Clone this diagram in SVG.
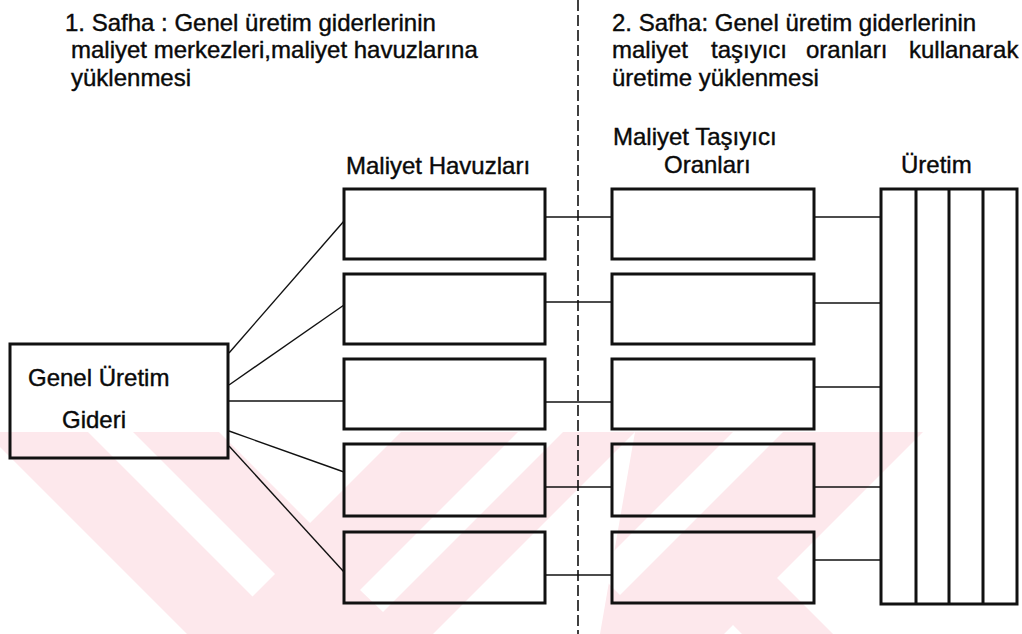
<svg xmlns="http://www.w3.org/2000/svg" width="1022" height="634" viewBox="0 0 1022 634">
  <defs>
    <style>
      .box { fill: none; stroke: #111; stroke-width: 3; }
      .ln { fill: none; stroke: #111; stroke-width: 1.4; }
      .dash { fill: none; stroke: #111; stroke-width: 1.6; stroke-dasharray: 11 4; }
      text { font-family: "Liberation Sans", Arial, sans-serif; font-size: 24px; fill: #0a0a0a; stroke: #0a0a0a; stroke-width: 0.4; }
      .wm { fill: #fde8ec; }
      .gap { fill: #ffffff; }
    </style>
    <clipPath id="wmClip">
      <rect x="0" y="432" width="1022" height="202"/>
    </clipPath>
  </defs>

  <rect width="1022" height="634" fill="#ffffff"/>

  <!-- background stamp -->
  <g id="stamp" clip-path="url(#wmClip)">
    <polygon class="wm" points="-15,432 219,432 310,523 401,432 635,432 433,634 187,634 0,447"/>
    <polygon class="wm" points="635,432 923,432 777,578 833,634 742,634 733,625 724,634 600,634"/>
    <polygon class="gap" points="88,432 133,432 275,574 252.5,596.5"/>
    <polygon class="gap" points="518,432 563,432 383,612 360,590"/>
    <polygon class="gap" points="733,432 783,432 620,595 595,570"/>
  </g>

  <!-- phase divider -->
  <line class="dash" x1="578" y1="0" x2="578" y2="634"/>

  <!-- headings -->
  <g id="phase1">
    <text x="65" y="31">1. Safha : Genel üretim giderlerinin</text>
    <text x="71" y="58">maliyet merkezleri,maliyet havuzlarına</text>
    <text x="71" y="86">yüklenmesi</text>
  </g>
  <g id="phase2">
    <text x="612" y="31">2. Safha: Genel üretim giderlerinin</text>
    <text x="612" y="58">maliyet</text>
    <text x="711" y="58">taşıyıcı</text>
    <text x="806" y="58">oranları</text>
    <text x="909" y="58">kullanarak</text>
    <text x="612" y="86">üretime yüklenmesi</text>
  </g>

  <!-- column titles -->
  <text x="346" y="174">Maliyet Havuzları</text>
  <text x="613" y="145">Maliyet Taşıyıcı</text>
  <text x="664" y="173">Oranları</text>
  <text x="901" y="173">Üretim</text>

  <!-- connectors -->
  <g id="connectors">
    <line class="ln" x1="229" y1="353" x2="344" y2="221"/>
    <line class="ln" x1="229" y1="385" x2="344" y2="305"/>
    <line class="ln" x1="229" y1="401" x2="344" y2="401"/>
    <line class="ln" x1="229" y1="431" x2="344" y2="472"/>
    <line class="ln" x1="229" y1="446" x2="344" y2="572"/>

    <line class="ln" x1="545" y1="217" x2="612" y2="217"/>
    <line class="ln" x1="545" y1="302" x2="612" y2="302"/>
    <line class="ln" x1="545" y1="402" x2="612" y2="402"/>
    <line class="ln" x1="545" y1="487" x2="612" y2="487"/>
    <line class="ln" x1="545" y1="575" x2="612" y2="575"/>

    <line class="ln" x1="814" y1="217" x2="881" y2="217"/>
    <line class="ln" x1="814" y1="303" x2="881" y2="303"/>
    <line class="ln" x1="814" y1="387" x2="881" y2="387"/>
    <line class="ln" x1="814" y1="487" x2="881" y2="487"/>
    <line class="ln" x1="814" y1="560" x2="881" y2="560"/>
  </g>

  <!-- source node -->
  <g id="genel">
    <rect class="box" x="10" y="344" width="218" height="114"/>
    <text x="28" y="386">Genel Üretim</text>
    <text x="62" y="428">Gideri</text>
  </g>

  <!-- cost pools -->
  <g id="havuz1"><rect class="box" x="344" y="189" width="201" height="70"/></g>
  <g id="havuz2"><rect class="box" x="344" y="274" width="201" height="70"/></g>
  <g id="havuz3"><rect class="box" x="344" y="359" width="201" height="70"/></g>
  <g id="havuz4"><rect class="box" x="344" y="444" width="201" height="72"/></g>
  <g id="havuz5"><rect class="box" x="344" y="532" width="201" height="71"/></g>

  <!-- carrier rates -->
  <g id="oran1"><rect class="box" x="612" y="189" width="202" height="70"/></g>
  <g id="oran2"><rect class="box" x="612" y="274" width="202" height="70"/></g>
  <g id="oran3"><rect class="box" x="612" y="359" width="202" height="70"/></g>
  <g id="oran4"><rect class="box" x="612" y="444" width="202" height="72"/></g>
  <g id="oran5"><rect class="box" x="612" y="532" width="202" height="71"/></g>

  <!-- production -->
  <g id="uretim">
    <rect class="box" x="881" y="189" width="136" height="415"/>
    <line class="box" x1="916" y1="189" x2="916" y2="604"/>
    <line class="box" x1="949" y1="189" x2="949" y2="604"/>
    <line class="box" x1="983" y1="189" x2="983" y2="604"/>
  </g>
</svg>
